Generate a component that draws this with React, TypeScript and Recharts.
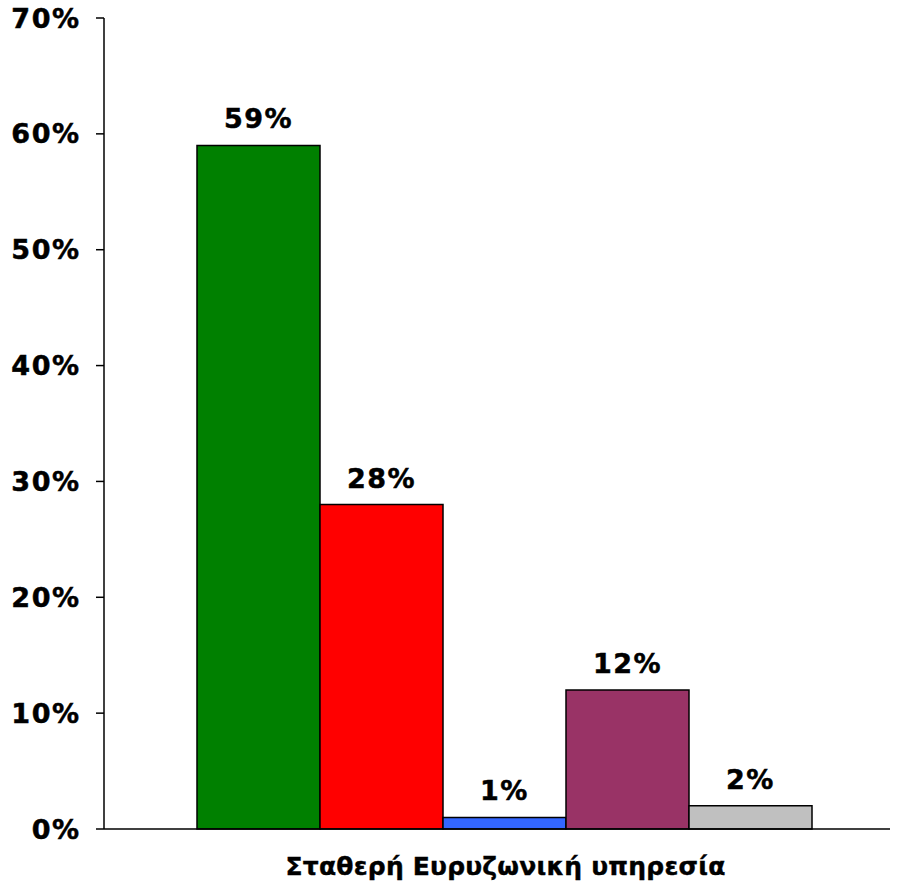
import React from 'react';
import { BarChart, Bar, XAxis, YAxis, LabelList } from 'recharts';

const categories = ['Σταθερή Ευρυζωνική υπηρεσία'];
const seriesNames = ['s1', 's2', 's3', 's4', 's5'];
const seriesValues = [59, 28, 1, 12, 2];
const seriesColors = ['#008000', '#FF0000', '#3366FF', '#993366', '#C0C0C0'];
const yTicks = [0, 10, 20, 30, 40, 50, 60, 70];

const data = categories.map((c) => {
  const row: any = { name: c };
  seriesNames.forEach((s, i) => (row[s] = seriesValues[i]));
  return row;
});

const FONT = 'DejaVu Sans, Verdana, sans-serif';

export default function App() {
  return (
    <div style={{ position: 'absolute', left: 0, top: 0 }}>
      <BarChart
        width={903}
        height={884}
        data={data}
        margin={{ top: 18, right: 13, bottom: 0, left: 0 }}
        barCategoryGap={76}
        barGap={0}
      >
        <XAxis
          dataKey="name"
          height={55}
          padding={{ left: 17, right: 0 }}
          tickLine={false}
          tickMargin={22}
          axisLine={{ stroke: '#000', strokeWidth: 1.5 }}
          tick={{ fill: '#000', stroke: '#000', strokeWidth: 0.4, fontSize: 25, fontWeight: 'bold', fontFamily: FONT, letterSpacing: 0.2 }}
        />
        <YAxis
          width={104}
          domain={[0, 70]}
          ticks={yTicks}
          interval={0}
          tickFormatter={(v) => `${v}%`}
          tickSize={8}
          tickMargin={15.5}
          axisLine={{ stroke: '#000', strokeWidth: 1.5 }}
          tickLine={{ stroke: '#000', strokeWidth: 1.5 }}
          tick={{ fill: '#000', stroke: '#000', strokeWidth: 0.5, fontSize: 27, fontWeight: 'bold', fontFamily: FONT, letterSpacing: 1.5 }}
        />
        {seriesNames.map((s, i) => (
          <Bar
            key={s}
            dataKey={s}
            fill={seriesColors[i]}
            stroke="#000"
            strokeWidth={1.5}
            isAnimationActive={false}
          >
            <LabelList
              dataKey={s}
              position="top"
              offset={17}
              formatter={(v: any) => `${v}%`}
              style={{ fill: '#000', stroke: '#000', strokeWidth: 0.5, fontSize: 27, fontWeight: 'bold', fontFamily: FONT, letterSpacing: 1.5 }}
            />
          </Bar>
        ))}
      </BarChart>
    </div>
  );
}
